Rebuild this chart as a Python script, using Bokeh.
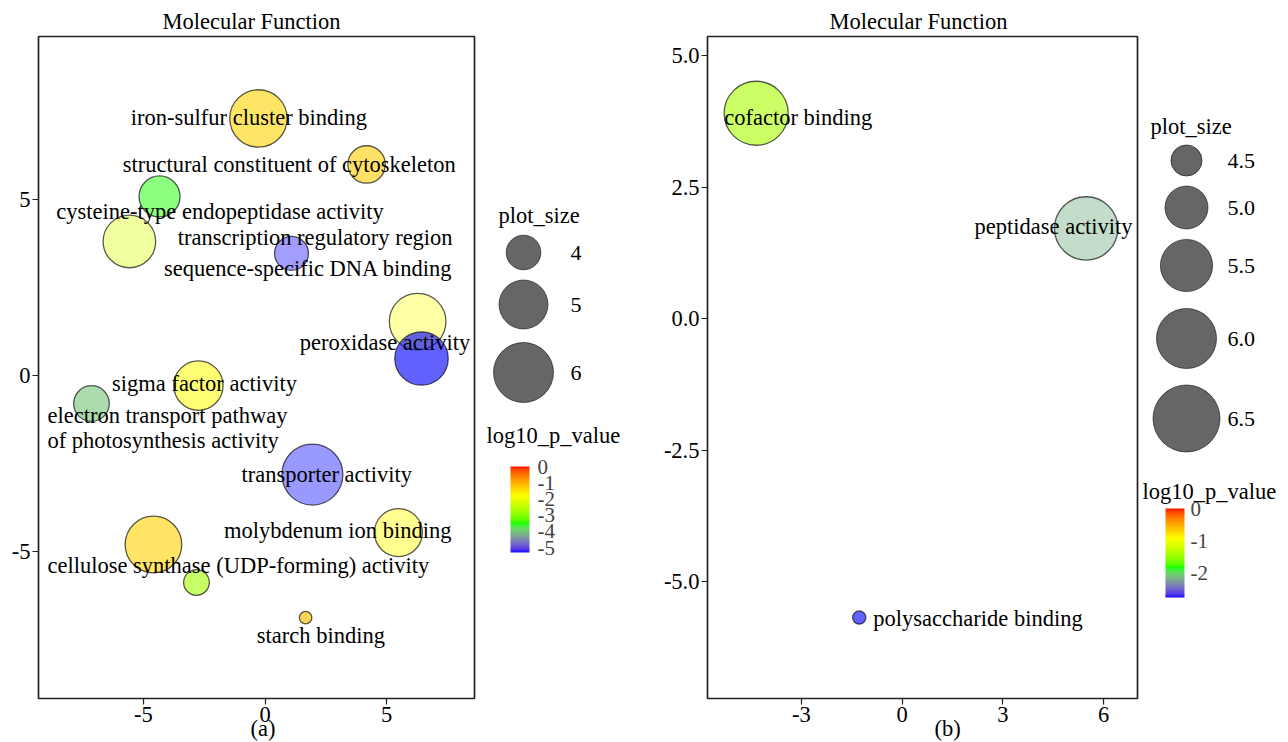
import math
from bokeh.plotting import figure
from bokeh.models import (ColumnDataSource, Range1d, FixedTicker, LinearColorMapper,
                          ColorBar, Title, AllLabels, PrintfTickFormatter)
from bokeh.layouts import row
from bokeh.embed import file_html
from bokeh.resources import INLINE
from bokeh.core.properties import value, field

# ---------------- data: panel (a) ----------------
a_x = [-0.27, 4.18, -4.34, -5.58, 1.09, 6.28, 6.44, -2.74, -7.14, 1.95, 5.49, -4.59, -2.82, 1.67]
a_y = [7.32, 6.01, 5.10, 3.82, 3.48, 1.54, 0.49, -0.28, -0.79, -2.81, -4.46, -4.80, -5.88, -6.88]
a_plot_size = [5.74, 4.17, 4.40, 5.30, 3.96, 5.67, 5.38, 5.03, 4.06, 6.10, 4.92, 5.67, 3.55, 3.13]
a_log10_p = [-1.35, -1.30, -3.50, -2.20, -5.27, -1.77, -5.30, -1.72, -4.00, -5.28, -1.75, -1.33, -2.74, -1.15]

a_label = ["iron-sulfur cluster binding",
           "structural constituent of cytoskeleton",
           "cysteine-type endopeptidase activity",
           "transcription regulatory region\nsequence-specific DNA binding",
           "peroxidase activity",
           "sigma factor activity",
           "electron transport pathway\nof photosynthesis activity",
           "transporter activity",
           "molybdenum ion binding",
           "cellulose synthase (UDP-forming) activity",
           "starch binding"]
a_label_x = [-0.66, 1.0, -1.85, 7.72, 4.94, -2.49, -8.95, 2.54, 2.99, -8.95, 2.30]
a_label_y = [7.35, 6.01, 4.67, 3.49, 0.96, -0.23, -1.49, -2.80, -4.40, -5.40, -7.39]

a_size_legend = [4, 5, 6]
a_p_ticks = [0, -1, -2, -3, -4, -5]
a_x_ticks = [-5, 0, 5]
a_y_ticks = [-5, 0, 5]

# ---------------- data: panel (b) ----------------
b_x = [-4.35, 5.48, -1.28]
b_y = [3.91, 1.72, -5.68]
b_plot_size = [6.28, 6.23, 4.05]
b_log10_p = [-1.40, -2.15, -2.75]
b_label = ["cofactor binding", "peptidase activity", "polysaccharide binding"]
b_label_x = [-5.30, 4.51, -0.86]
b_label_y = [3.83, 1.76, -5.69]

b_size_legend = [4.5, 5.0, 5.5, 6.0, 6.5]
b_p_ticks = [0, -1, -2]
b_x_ticks = [-3, 0, 3, 6]
b_y_ticks = [-5.0, -2.5, 0.0, 2.5, 5.0]

# ---------------- styles ----------------
FONT = "Liberation Serif"
FS = "22.5px"
a_fill_alpha = [0.6, 0.6, 0.5, 0.38, 0.4, 0.35, 0.62, 0.55, 0.6, 0.4, 0.44, 0.6, 0.6, 0.65]
b_fill_alpha = [0.6, 0.45, 0.62]
a_label_align = ["center", "center", "center", "right", "center", "center", "left", "center", "center", "left", "center"]
a_label_lh = [1.2, 1.2, 1.2, 1.26, 1.2, 1.2, 1.0, 1.2, 1.2, 1.2, 1.2]
b_label_align = ["left", "center", "left"]
b_label_lh = [1.2, 1.2, 1.2]

H = 742
TOP, BOTTOM = 36, 44          # shared frame borders (frame spans page y 36..698)
FRAME_BOTTOM = H - BOTTOM


# Lab-space gradient blue -> green -> yellow -> red (as ggplot's gradientn)
def _to_lab(h):
    r, g, b = [int(h[i:i + 2], 16) / 255 for i in (1, 3, 5)]

    def lin(c):
        return c / 12.92 if c <= 0.04045 else ((c + 0.055) / 1.055) ** 2.4
    r, g, b = lin(r), lin(g), lin(b)
    X = 0.4124564 * r + 0.3575761 * g + 0.1804375 * b
    Y = 0.2126729 * r + 0.7151522 * g + 0.0721750 * b
    Z = 0.0193339 * r + 0.1191920 * g + 0.9503041 * b

    def f(t):
        return t ** (1 / 3) if t > 216 / 24389 else (24389 / 27 * t + 16) / 116
    fx, fy, fz = f(X / 0.95047), f(Y), f(Z / 1.08883)
    return (116 * fy - 16, 500 * (fx - fy), 200 * (fy - fz))


def _to_hex(L, a, b):
    fy = (L + 16) / 116
    fx = fy + a / 500
    fz = fy - b / 200

    def finv(t):
        return t ** 3 if t ** 3 > 216 / 24389 else (116 * t - 16) / (24389 / 27)
    X, Y, Z = finv(fx) * 0.95047, finv(fy), finv(fz) * 1.08883
    rl = 3.2404542 * X - 1.5371385 * Y - 0.4985314 * Z
    gl = -0.9692660 * X + 1.8760108 * Y + 0.0415560 * Z
    bl = 0.0556434 * X - 0.2040259 * Y + 1.0572252 * Z

    def gam(c):
        c = max(0.0, c)
        c = c * 12.92 if c <= 0.0031308 else 1.055 * c ** (1 / 2.4) - 0.055
        return int(max(0, min(255, round(c * 255))))
    return "#%02x%02x%02x" % (gam(rl), gam(gl), gam(bl))


def lab_palette(stops, n=256):
    labs = [_to_lab(s) for s in stops]
    out = []
    for i in range(n):
        t = i / (n - 1) * (len(stops) - 1)
        k = min(int(t), len(stops) - 2)
        u = t - k
        L = [labs[k][j] * (1 - u) + labs[k + 1][j] * u for j in range(3)]
        out.append(_to_hex(*L))
    return out


PALETTE = lab_palette(["#0000ff", "#00ff00", "#ffff00", "#ff0000"])


def size_px(v, k, v0):
    return 2 * math.sqrt(max(k * (v - v0), 1.0))


def panel(xs, ys, psize, logp, alphas, labels, lx, ly, align, lh, xr, yr, xt, yt, xfmt, yfmt,
          width, mb_left, k, v0, mapper, title_off, tag, tag_off):
    p = figure(width=width, height=H, x_range=Range1d(*xr), y_range=Range1d(*yr),
               min_border_left=mb_left, min_border_right=2, min_border_top=TOP,
               min_border_bottom=BOTTOM, output_backend="svg", toolbar_location=None,
               title=None)
    p.grid.visible = False
    p.outline_line_color = "#222222"
    p.outline_line_width = 1.7
    p.background_fill_color = "white"
    p.border_fill_color = "white"
    for ax in (p.xaxis[0], p.yaxis[0]):
        ax.axis_line_color = None
        ax.major_tick_in = 0
        ax.major_tick_out = 6
        ax.major_tick_line_color = "#222222"
        ax.major_tick_line_width = 1.2
        ax.minor_tick_line_color = None
        ax.major_label_text_font = FONT
        ax.major_label_text_font_size = FS
        ax.major_label_text_color = "black"
        ax.major_label_standoff = 2
    p.xaxis.ticker = FixedTicker(ticks=xt)
    p.yaxis.ticker = FixedTicker(ticks=yt)
    p.xaxis.formatter = PrintfTickFormatter(format=xfmt)
    p.yaxis.formatter = PrintfTickFormatter(format=yfmt)

    src = ColumnDataSource(dict(x=xs, y=ys, plot_size=psize, logp=logp, alpha=alphas,
                                size=[size_px(v, k, v0) for v in psize]))
    p.scatter("x", "y", size="size", source=src,
              fill_color={"field": "logp", "transform": mapper}, fill_alpha="alpha",
              line_color="black", line_alpha=0.65, line_width=1.3)

    lsrc = ColumnDataSource(dict(x=lx, y=ly, text=labels, align=align, lh=lh))
    p.text("x", "y", text="text", source=lsrc, text_font=value(FONT), text_font_size=FS,
           text_align=field("align"), text_baseline="middle", text_line_height=field("lh"),
           text_color="black")

    p.add_layout(Title(text="Molecular Function", align="left", offset=title_off, standoff=6,
                       vertical_align="bottom", text_font=FONT, text_font_size=FS,
                       text_font_style="normal", text_color="black"), "above")
    p.add_layout(Title(text=tag, align="left", offset=tag_off, standoff=-18,
                       vertical_align="top", text_font=FONT, text_font_size=FS,
                       text_font_style="normal", text_color="black"), "below")
    return p


def legend_panel(x0, width, size_vals, size_fmt, k, v0, title_xy, circ_x, circ_ys, lab_x,
                 ptitle_xy, mapper, bar_left, bar_top, bar_bottom, p_ticks, standoff):
    lf = figure(width=width, height=H, x_range=Range1d(x0, x0 + width),
                y_range=Range1d(FRAME_BOTTOM, TOP),
                x_axis_type=None, y_axis_type=None, min_border_left=0, min_border_right=0,
                min_border_top=TOP, min_border_bottom=BOTTOM, output_backend="svg",
                toolbar_location=None, title=None)
    lf.grid.visible = False
    lf.outline_line_color = None
    src = ColumnDataSource(dict(x=[circ_x] * len(size_vals), y=circ_ys,
                                size=[size_px(v, k, v0) for v in size_vals]))
    lf.scatter("x", "y", size="size", source=src, fill_color="black", fill_alpha=0.6,
               line_color="black", line_alpha=0.55, line_width=1.0)
    lf.text(x=[lab_x] * len(size_vals), y=circ_ys, text=[size_fmt % v for v in size_vals],
            text_font=value(FONT), text_font_size="22px", text_baseline="middle", text_align="left",
            text_color="black")
    lf.text(x=[title_xy[0], ptitle_xy[0]], y=[title_xy[1], ptitle_xy[1]],
            text=["plot_size", "log10_p_value"], text_font=value(FONT), text_font_size=FS,
            text_baseline="middle", text_align="left", text_color="black")
    cb = ColorBar(color_mapper=mapper, orientation="vertical", width=19,
                  height=bar_bottom - bar_top,
                  location=(bar_left - x0, FRAME_BOTTOM - bar_bottom),
                  ticker=FixedTicker(ticks=p_ticks), formatter=PrintfTickFormatter(format="%d"),
                  major_label_text_font=FONT, major_label_text_font_size="21px",
                  major_label_policy=AllLabels(), major_tick_line_color=None,
                  bar_line_color=None, border_line_color=None, background_fill_color=None,
                  padding=0, label_standoff=standoff, title=None)
    lf.add_layout(cb)
    return lf


mapper_a = LinearColorMapper(palette=PALETTE, low=min(a_log10_p), high=0)
mapper_b = LinearColorMapper(palette=PALETTE, low=min(b_log10_p), high=0)

pa = panel(a_x, a_y, a_plot_size, a_log10_p, a_fill_alpha, a_label, a_label_x, a_label_y,
           a_label_align, a_label_lh, (-9.32, 8.62), (-9.18, 9.65), a_x_ticks, a_y_ticks, "%d", "%d",
           476, 38, 300, 3.0, mapper_a, 124, "(a)", 212)
la = legend_panel(476, 174, a_size_legend, "%d", 300, 3.0, (498, 215), 523, [252, 304, 372], 570,
                  (486, 435), mapper_a, 510, 466, 552, a_p_ticks, 8)
pb = panel(b_x, b_y, b_plot_size, b_log10_p, b_fill_alpha, b_label, b_label_x, b_label_y,
           b_label_align, b_label_lh, (-5.80, 7.01), (-7.22, 5.37), b_x_ticks, b_y_ticks, "%d", "%.1f",
           489, 57, 440, 3.95, mapper_b, 122, "(b)", 227)
lb = legend_panel(1139, 149, b_size_legend, "%.1f", 440, 3.95, (1150, 126), 1186,
                  [160, 207, 265, 338, 418], 1227, (1142, 491), mapper_b, 1165, 508, 597, b_p_ticks, 6)

layout = row(pa, la, pb, lb, spacing=0)
open("out.html", "w").write(file_html(layout, INLINE))
